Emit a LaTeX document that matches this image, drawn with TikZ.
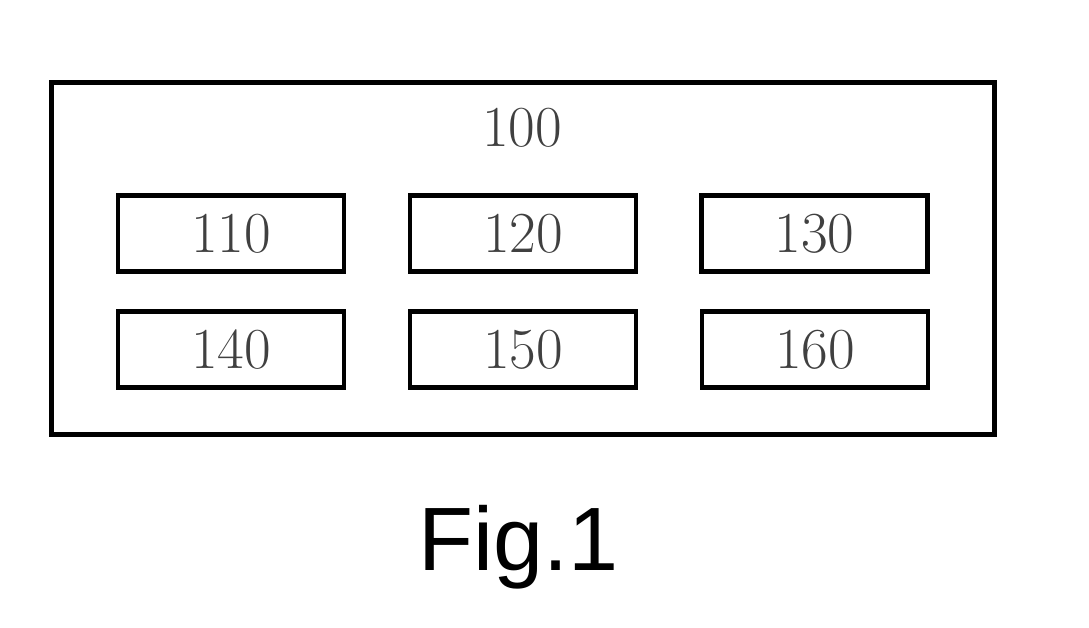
\documentclass[tikz,border=0pt]{standalone}
\usepackage{fontspec}
\newfontfamily\figfont{Liberation Sans}
\begin{document}
\begin{tikzpicture}[x=1pt,y=-1pt,
  outerbox/.style={draw=black,line width=5pt},
  unitbox/.style={draw=black,line width=4.5pt,minimum width=226pt,minimum height=76pt,inner sep=0pt},
  numtext/.style={text=black!75,font=\fontsize{58}{58}\selectfont}]
\useasboundingbox (0,0) rectangle (1089,628);
\draw[outerbox] (51.5,82.5) rectangle (994.5,434.5);
\node[numtext] (t100) at (522,128) {100};
\node[unitbox,numtext] (u110) at (231,233.5) {110};
\node[unitbox,numtext] (u120) at (523,233.5) {120};
\node[unitbox,numtext] (u130) at (814.5,233.5) {130};
\node[unitbox,numtext] (u140) at (231,349.5) {140};
\node[unitbox,numtext] (u150) at (523,349.5) {150};
\node[unitbox,numtext] (u160) at (815,349.5) {160};
\node[font=\figfont\fontsize{90}{90}\selectfont,anchor=base] (fig) at (519,570) {Fig.1};
\end{tikzpicture}
\end{document}
